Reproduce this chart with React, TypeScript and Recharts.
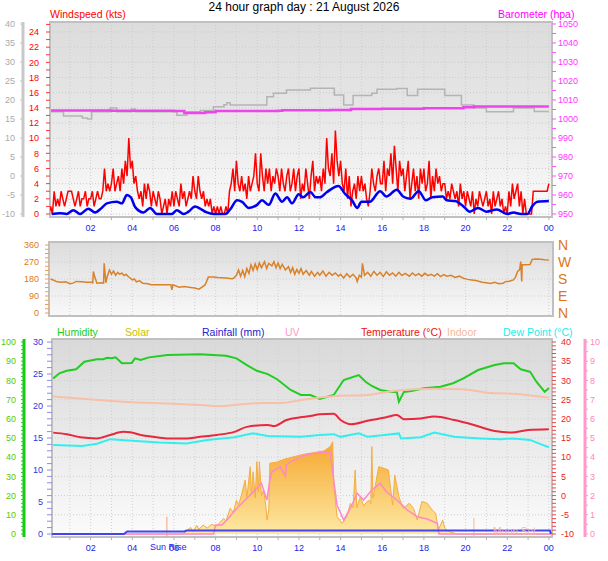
import React from 'react';
import { ComposedChart, Line, Area, XAxis, YAxis, CartesianGrid, ReferenceArea, ReferenceLine } from 'recharts';

const FONT = '"Liberation Sans", Arial, sans-serif';

// hours on the x axis (00:00 .. 24:00)
const gridHours = [1, 2, 3, 4, 5, 6, 7, 8, 9, 10, 11, 12, 13, 14, 15, 16, 17, 18, 19, 20, 21, 22, 23, 24];
const xLabelHours = [2, 4, 6, 8, 10, 12, 14, 16, 18, 20, 22, 24];
const xLabels = ['02', '04', '06', '08', '10', '12', '14', '16', '18', '20', '22', '00'];

// windspeed gusts, kts, every 5 minutes from 00:00
const gustKts = [
  0, 1, 0, 3, 1, 2, 1, 3, 2, 1, 2, 3,
  3, 3, 2, 1, 2, 3, 1, 2, 2, 3, 1, 2,
  2, 3, 1, 2, 3, 2, 2, 3, 6, 3, 4, 3,
  4, 6, 3, 4, 5, 3, 6, 4, 7, 5, 10, 6,
  7, 4, 5, 3, 2, 3, 1, 4, 2, 4, 3, 1,
  3, 2, 1, 3, 2, 0, 1, 2, 0, 2, 1, 3,
  1, 3, 2, 1, 4, 2, 3, 1, 2, 3, 2, 5,
  3, 2, 5, 3, 2, 3, 1, 2, 1, 2, 0, 1,
  0, 1, 0, 1, 0, 0, 1, 0, 3, 4, 6, 3,
  7, 4, 3, 5, 3, 4, 2, 5, 3, 4, 5, 8,
  4, 3, 8, 5, 3, 6, 4, 6, 3, 5, 4, 6,
  5, 3, 6, 4, 3, 5, 6, 3, 4, 6, 3, 5,
  6, 2, 4, 3, 6, 4, 2, 5, 7, 3, 5, 4,
  5, 3, 6, 4, 10, 6, 5, 8, 4, 11, 7, 5,
  7, 4, 3, 6, 2, 5, 1, 3, 4, 2, 5, 3,
  5, 3, 4, 2, 1, 3, 6, 4, 3, 5, 6, 4,
  4, 7, 3, 6, 5, 8, 4, 9, 6, 3, 7, 5,
  6, 3, 5, 7, 2, 4, 6, 3, 5, 2, 6, 4,
  6, 3, 4, 7, 2, 5, 3, 6, 4, 5, 3, 4,
  4, 2, 3, 2, 4, 3, 2, 3, 1, 4, 2, 3,
  1, 3, 2, 1, 3, 0, 2, 1, 3, 2, 1, 2,
  3, 1, 2, 0, 3, 1, 2, 3, 1, 2, 0, 1,
  0, 3, 1, 4, 2, 3, 4, 1, 3, 0, 2, 0,
  0, 0, 0, 3, 3, 3, 3, 3, 3, 3, 3, 3,
  4,
];

// average windspeed [hour, kts]
const avgKts: [number, number][] = [
  [0.13, 0], [0.53, 0.1], [0.85, 0], [1.17, 0.5], [1.49, 0], [1.89, 0.7], [2.21, 0.2], [2.53, 0.8],
  [2.78, 1.4], [3.26, 1.6], [3.5, 1.4], [3.74, 2.5], [3.93, 2.2], [4.14, 0.9], [4.54, 0.2], [4.86, 0.8],
  [5.18, 0], [5.5, 0], [5.9, 0], [6.14, 0.5], [6.46, 0], [6.7, 0.3], [7.02, 1], [7.26, 0.7],
  [7.58, 0.2], [7.9, 0], [8.3, 0], [8.46, 0], [8.7, 0.6], [9.03, 1.8], [9.27, 1.6], [9.59, 0.8],
  [9.99, 1.2], [10.23, 1.8], [10.55, 1.2], [10.87, 2.7], [11.19, 1.6], [11.43, 2.2], [11.67, 1.4], [11.99, 2.6],
  [12.2, 2.2], [12.55, 2.9], [12.8, 2.2], [13.0, 2.2], [13.35, 2.9], [13.9, 3.7], [14.2, 2.7], [14.55, 1.8],
  [14.8, 0.8], [15.0, 1.6], [15.4, 1.6], [15.9, 3.0], [16.2, 2.3], [16.7, 3.2], [17.0, 2.3], [17.35, 2.0],
  [17.75, 3.0], [18.1, 1.8], [18.4, 2.2], [18.9, 2.3], [19.1, 1.8], [19.5, 1.7], [19.9, 1.0], [20.2, 0.3],
  [20.6, 0.8], [21.0, 0.3], [21.5, 0.6], [22.0, 0], [22.3, 0.2], [22.65, 0], [22.97, 0], [23.2, 1.0],
  [23.45, 1.6], [24, 1.7],
];

// grey stepped trace [hour, hPa]
const greyHpa: [number, number][] = [
  [0.1, 1003.8], [0.7, 1001.6], [1.6, 1000.5], [1.85, 1000], [2.05, 1003.8], [2.93, 1005.8], [3.26, 1003.8],
  [3.95, 1005.2], [4.15, 1003.8], [6.14, 1002], [6.62, 1003.8], [7.26, 1004.5], [7.9, 1006.5], [8.4, 1007.5],
  [8.54, 1008.6], [8.7, 1007.4], [9.35, 1007.4], [10.46, 1011.7], [10.78, 1013.5], [11.4, 1015.2], [12.55, 1016.2],
  [13.7, 1012.6], [14.15, 1007.4], [14.6, 1012.4], [15.5, 1013.5], [15.75, 1015.6], [16.7, 1016], [17.2, 1012.4],
  [17.7, 1015.6], [19.0, 1012.4], [19.8, 1007.4], [20.4, 1005.8], [21.0, 1003.8], [22.3, 1005.8], [23.3, 1004],
  [24, 1004],
];

// barometer [hour, hPa]
const baroHpa: [number, number][] = [
  [0.1, 1004.5], [3, 1004.4], [6, 1004.2], [6.5, 1003.2], [7.5, 1003.6], [8, 1004.2], [11, 1004.3], [11.2, 1004.6],
  [13.5, 1004.8], [14.5, 1005.2], [16, 1005.4], [18, 1005.6], [19.9, 1006.2], [20.4, 1006.6], [24, 1006.6],
];

// wind direction [hour, degrees]
const windDir: [number, number][] = [
  [0.07, 180], [0.2, 175], [0.35, 167], [0.6, 163], [0.8, 165], [1.0, 155], [1.15, 158], [1.3, 167], [1.6, 165],
  [1.8, 163], [2.04, 163], [2.1, 160], [2.13, 220], [2.2, 190], [2.3, 158], [2.5, 160], [2.62, 158], [2.65, 263],
  [2.73, 160], [2.8, 195], [2.9, 228], [3.0, 205], [3.1, 222], [3.2, 200], [3.3, 215], [3.4, 205], [3.5, 212],
  [3.6, 198], [3.7, 205], [3.8, 193], [3.9, 185], [4.0, 175], [4.1, 180], [4.2, 165], [4.35, 170], [4.5, 158],
  [4.75, 155], [4.9, 150], [5.1, 149], [5.4, 150], [5.7, 149], [5.85, 149], [5.9, 123], [5.95, 149], [6.25, 137],
  [6.5, 140], [6.8, 135], [7.0, 132], [7.2, 126], [7.35, 137], [7.5, 150], [7.65, 190], [7.9, 190], [8.1, 188],
  [8.5, 185], [8.77, 181], [8.86, 184], [9.0, 200], [9.1, 228], [9.2, 195], [9.3, 225], [9.4, 193], [9.5, 235],
  [9.6, 210], [9.7, 255], [9.8, 225], [9.9, 260], [10.0, 230], [10.1, 265], [10.2, 240], [10.35, 272], [10.45, 235],
  [10.55, 262], [10.7, 250], [10.8, 272], [10.9, 240], [11.0, 265], [11.1, 235], [11.2, 258], [11.35, 228],
  [11.5, 245], [11.6, 215], [11.7, 240], [11.8, 205], [11.9, 230], [12.0, 210], [12.1, 235], [12.2, 205],
  [12.35, 225], [12.5, 200], [12.6, 220], [12.75, 195], [12.9, 215], [13.0, 200], [13.15, 222], [13.3, 195],
  [13.45, 215], [13.6, 200], [13.75, 212], [13.9, 195], [14.0, 205], [14.15, 185], [14.3, 208], [14.45, 190],
  [14.6, 205], [14.75, 185], [14.8, 167], [14.9, 200], [15.0, 190], [15.05, 263], [15.15, 200], [15.3, 215],
  [15.45, 195], [15.6, 220], [15.75, 200], [15.9, 215], [16.05, 193], [16.2, 218], [16.35, 200], [16.5, 212],
  [16.65, 195], [16.8, 215], [16.95, 198], [17.1, 210], [17.3, 195], [17.45, 212], [17.6, 198], [17.75, 208],
  [17.9, 195], [18.05, 210], [18.2, 198], [18.35, 205], [18.5, 195], [18.65, 208], [18.8, 193], [18.95, 203],
  [19.1, 195], [19.3, 200], [19.5, 188], [19.7, 195], [19.9, 184], [20.1, 178], [20.3, 175], [20.5, 172],
  [20.8, 163], [21.0, 160], [21.2, 156], [21.4, 162], [21.6, 155], [21.8, 158], [21.95, 167], [22.1, 168],
  [22.3, 175], [22.4, 190], [22.5, 220], [22.6, 230], [22.65, 272], [22.7, 167], [22.72, 255], [22.9, 255],
  [23.1, 256], [23.2, 284], [23.35, 286], [23.6, 284], [23.8, 282], [24.0, 281],
];
const dirTicks = [0, 90, 180, 270, 360];
const dirLabels = ['N', 'E', 'S', 'W', 'N'];

// bottom panel [hour, value]
const humidity: [number, number][] = [
  [0.2, 81], [0.5, 83.7], [0.85, 85], [1.3, 85.8], [1.7, 89.7], [2.3, 91], [2.6, 91], [2.8, 91.8], [3.0, 91.5],
  [3.2, 92], [3.5, 88.9], [3.97, 89], [4.13, 91.5], [4.4, 90.6], [4.8, 92], [5.7, 93.2], [7.25, 93.6], [8.5, 92.8],
  [9.0, 91.5], [9.5, 88], [9.98, 85], [10.5, 83.3], [10.95, 80.6], [11.6, 75], [12.1, 72.4], [12.55, 72.4],
  [13.0, 70.3], [13.67, 72.4], [14.15, 80.2], [14.87, 82.8], [15.2, 79.3], [15.5, 77.1], [15.9, 75], [16.4, 74.1],
  [16.7, 74], [16.8, 68.9], [17.04, 74], [17.4, 74.5], [18.0, 75.9], [18.8, 76.7], [19.4, 78.5], [19.9, 81],
  [20.6, 85.4], [21.4, 88], [21.85, 88.9], [22.3, 88.9], [22.65, 85.8], [23.1, 84.5], [23.4, 79.3], [23.8, 74],
  [24.0, 76],
];
const indoorC: [number, number][] = [
  [0.2, 25.8], [2.4, 24.9], [4.0, 24.3], [5.6, 24], [7.25, 23.6], [8.2, 23.3], [9.7, 24], [11.3, 24.2], [12.1, 24.9],
  [13.67, 25.9], [15.3, 26.2], [16.6, 27.3], [18.5, 27.8], [19.8, 27.7], [21.05, 26.8], [22.3, 26.5], [24, 25.5],
];
const temperatureC: [number, number][] = [
  [0.2, 16.4], [0.85, 16], [1.5, 15.2], [2.3, 14.9], [2.94, 15.8], [3.57, 16.6], [3.9, 16.5], [4.4, 15.8], [5.0, 15.3],
  [5.65, 14.9], [6.6, 14.9], [7.25, 15.3], [8.05, 15.8], [8.9, 16.6], [9.5, 17.9], [10.5, 18.4], [10.8, 18.1],
  [11.4, 19.7], [12.07, 20.4], [12.55, 20.7], [13.0, 21.2], [13.67, 21.3], [14.0, 19.7], [14.5, 18.6], [15.3, 19.5],
  [16.2, 20.4], [16.7, 21], [17.04, 19.9], [17.85, 20.1], [18.5, 20.6], [19.45, 19.7], [20.4, 18.4], [21.4, 16.8],
  [22.2, 16.4], [23.0, 17.1], [24, 17.3],
];
const dewPointC: [number, number][] = [
  [0.2, 13.2], [1.6, 12.9], [2.3, 13.5], [2.94, 14.7], [4.0, 14.3], [5.3, 13.8], [6.6, 13.6], [7.6, 14.5], [8.9, 15.2],
  [9.8, 16.2], [10.5, 15.5], [12.1, 15.3], [13.0, 15.8], [13.67, 16], [14.0, 15.3], [14.87, 16.2], [15.3, 15.3],
  [16.1, 15.8], [16.8, 16.2], [16.9, 14.9], [17.85, 15.2], [18.5, 16.4], [19.45, 15.3], [20.7, 14.9], [21.7, 14.7],
  [22.3, 14.9], [23.1, 14.5], [23.6, 13.4], [24, 12.6],
];
const solarWm2: [number, number][] = [
  [0.14, 0], [6.4, 0], [6.5, 10], [6.8, 55], [6.9, 20], [7.1, 70], [7.2, 40], [7.4, 75], [7.6, 50], [7.8, 80],
  [8.06, 67], [8.2, 95], [8.38, 130], [8.5, 110], [8.7, 214], [8.85, 180], [9.0, 283], [9.1, 240], [9.26, 339],
  [9.42, 450], [9.5, 300], [9.66, 561], [9.72, 330], [9.8, 519], [9.9, 300], [9.98, 603], [10.05, 350], [10.1, 603],
  [10.2, 320], [10.3, 367], [10.4, 250], [10.47, 117], [10.55, 200], [10.6, 589], [10.95, 600], [11.27, 622],
  [11.75, 644], [12.23, 664], [12.71, 678], [13.19, 692], [13.5, 728], [13.62, 769], [13.67, 422], [13.83, 144],
  [14.07, 89], [14.3, 144], [14.47, 256], [14.6, 220], [14.7, 533], [14.78, 220], [14.95, 311], [15.1, 236],
  [15.35, 283], [15.45, 250], [15.5, 728], [15.55, 300], [15.6, 339], [15.83, 561], [16.1, 547], [16.3, 533],
  [16.4, 380], [16.5, 242], [16.6, 492], [16.8, 311], [17.0, 214], [17.3, 256], [17.5, 214], [17.68, 117],
  [17.9, 270], [18.16, 256], [18.4, 200], [18.56, 172], [18.7, 33], [18.9, 117], [19.0, 50], [19.1, 33],
  [19.3, 15], [19.6, 0], [24.1, 0],
];
const uvIndex: [number, number][] = [
  [0.14, 0], [7.9, 0], [8.0, 0.47], [8.3, 0.47], [8.54, 0.73], [9.02, 1.34], [9.5, 1.86], [9.98, 2.38], [10.2, 2.64],
  [10.46, 1.77], [10.6, 2.8], [10.7, 3.24], [11.1, 3.5], [11.35, 3.0], [11.4, 3.6], [11.6, 3.77], [12.4, 4.15],
  [13.5, 4.29], [13.67, 2.8], [13.83, 1.5], [14.15, 0.73], [14.47, 1.34], [14.8, 2.12], [15.1, 1.77], [15.5, 2.29],
  [15.9, 2.64], [16.2, 2.2], [16.7, 1.77], [17.2, 1.25], [17.68, 0.9], [18.16, 0.78], [18.64, 0.56], [18.72, 0],
  [24.1, 0],
];
const rainMm: [number, number][] = [
  [0.14, 0], [3.6, 0], [3.75, 0.4], [6.5, 0.4], [6.6, 0.55], [24.05, 0.55], [24.1, 0],
];
const sunRiseHour = 5.66;
const moonSetHour = 20.4;

const range = (a: number, b: number, s: number) => {
  const out: number[] = [];
  for (let v = a; v <= b + 1e-9; v += s) out.push(Math.round(v * 100) / 100);
  return out;
};
const pts = (arr: [number, number][]) => arr.map(([t, v]) => ({ t, v }));
const gustData = gustKts.map((v, i) => ({ t: i / 12, v }));
const hourFmt = (h: number) => {
  const i = xLabelHours.indexOf(h);
  return i >= 0 ? xLabels[i] : '';
};
const everyFmt = (step: number) => (v: number) => (Math.abs(v / step - Math.round(v / step)) < 1e-6 ? String(v) : '');

const Txt: React.FC<{ x: number; y: number; color: string; size?: number; children: React.ReactNode }> = ({ x, y, color, size = 10.5, children }) => (
  <div style={{ position: 'absolute', left: x, top: y, color, fontSize: size, whiteSpace: 'nowrap', lineHeight: 1 }}>{children}</div>
);

const tick = (fill: string, fontSize = 9) => ({ fill, fontSize, fontFamily: FONT });
const frame = { fill: 'none', stroke: '#c0c0c0', strokeWidth: 2, ifOverflow: 'visible' as const };

// left axes are stacked by id: "a…" sits next to the plot, "b…" outside it
export default function App() {
  const xTop: [number, number] = [0.05, 24.15];
  const xMid: [number, number] = [0, 24.2];
  const xBot: [number, number] = [0.144, 24.15];
  return (
    <div style={{ position: 'absolute', left: 0, top: 0, width: 608, height: 561, background: '#fff', fontFamily: FONT, overflow: 'hidden' }}>
      <div style={{ position: 'absolute', left: 0, top: 0 }}>
        <ComposedChart width={608} height={240} margin={{ top: 22, right: 0, bottom: 3, left: 0 }}>
          <defs>
            <linearGradient id="bgTop" x1="0" y1="0" x2="0" y2="1">
              <stop offset="0%" stopColor="#dcdcdc" />
              <stop offset="45%" stopColor="#e6e6e6" />
              <stop offset="100%" stopColor="#fbfbfb" />
            </linearGradient>
          </defs>
          <CartesianGrid yAxisId="a_kts" fill="url(#bgTop)" stroke="#cdcdcd" strokeDasharray="1 2" horizontalValues={range(0, 24, 2)} verticalValues={gridHours} />
          <XAxis dataKey="t" type="number" domain={xTop} allowDataOverflow ticks={gridHours} interval={0} tickFormatter={hourFmt} height={20} tickSize={3} tickMargin={5} axisLine={false} tickLine={{ stroke: '#b0b0b0' }} tick={tick('#2222ee')} />
          <YAxis yAxisId="a_kts" orientation="left" width={27} type="number" domain={[-0.4, 25.32]} allowDataOverflow ticks={range(0, 25, 1)} interval={0} tickFormatter={(v: number) => (v % 2 === 0 && v <= 24 ? String(v) : '')} axisLine={false} tickSize={4} tickMargin={7} tickLine={{ stroke: '#ff3333' }} tick={tick('#ff0000')} />
          <YAxis yAxisId="b_grey" orientation="left" width={23} type="number" domain={[-10.79, 40.53]} allowDataOverflow ticks={range(-10, 40, 5)} interval={0} axisLine={{ stroke: '#c8c8c8', strokeWidth: 3 }} tickSize={3} tickMargin={5} tickLine={{ stroke: '#c8c8c8' }} tick={tick('#aaaaaa')} />
          <YAxis yAxisId="hpa" orientation="right" width={56} type="number" domain={[948.42, 1051.05]} allowDataOverflow ticks={range(950, 1050, 5)} interval={0} tickFormatter={everyFmt(10)} axisLine={false} tickSize={4} tickMargin={2} tickLine={{ stroke: '#ff55ff' }} tick={tick('#ff33ff')} />
          <ReferenceArea yAxisId="a_kts" x1={xTop[0]} x2={xTop[1]} y1={-0.4} y2={25.32} {...frame} />
          <Line yAxisId="hpa" data={pts(greyHpa)} dataKey="v" type="stepAfter" stroke="#b4b4b4" strokeWidth={1.5} dot={false} isAnimationActive={false} />
          <Line yAxisId="hpa" data={pts(baroHpa)} dataKey="v" type="stepAfter" stroke="#ee44ee" strokeWidth={2.5} dot={false} isAnimationActive={false} />
          <Line yAxisId="a_kts" data={gustData} dataKey="v" type="linear" stroke="#ff0000" strokeWidth={1.5} dot={false} isAnimationActive={false} />
          <Line yAxisId="a_kts" data={pts(avgKts)} dataKey="v" type="monotone" stroke="#0000ee" strokeWidth={2.5} dot={false} isAnimationActive={false} />
        </ComposedChart>
      </div>

      <div style={{ position: 'absolute', left: 0, top: 230 }}>
        <ComposedChart width={608} height={100} margin={{ top: 12, right: 0, bottom: 14, left: 0 }}>
          <defs>
            <linearGradient id="bgMid" x1="0" y1="0" x2="0" y2="1">
              <stop offset="0%" stopColor="#dcdcdc" />
              <stop offset="100%" stopColor="#f8f8f8" />
            </linearGradient>
          </defs>
          <CartesianGrid yAxisId="deg" fill="url(#bgMid)" stroke="#d0d0d0" strokeDasharray="1 2" horizontalValues={[90, 180, 270]} verticalValues={gridHours} />
          <XAxis dataKey="t" type="number" domain={xMid} allowDataOverflow hide />
          <YAxis yAxisId="deg" orientation="left" width={49} type="number" domain={[-15.9, 375.9]} allowDataOverflow ticks={range(0, 360, 22.5)} interval={0} tickFormatter={everyFmt(90)} axisLine={false} tickSize={4} tickMargin={6} tickLine={{ stroke: '#e8a060' }} tick={tick('#e07a20')} />
          <YAxis yAxisId="dir" orientation="right" width={55} type="number" domain={[-15.9, 375.9]} allowDataOverflow ticks={dirTicks} interval={0} tickFormatter={(v: number) => dirLabels[dirTicks.indexOf(v)]} axisLine={false} tickLine={false} tickSize={0} tickMargin={5} tick={tick('#e07810', 14)} />
          <ReferenceArea yAxisId="deg" x1={xMid[0]} x2={xMid[1]} y1={-15.9} y2={375.9} {...frame} />
          <Line yAxisId="deg" data={pts(windDir)} dataKey="v" type="linear" stroke="#d9822b" strokeWidth={1.5} dot={false} isAnimationActive={false} />
        </ComposedChart>
      </div>

      <div style={{ position: 'absolute', left: 0, top: 330 }}>
        <ComposedChart width={608} height={231} margin={{ top: 9, right: 0, bottom: 4, left: 0 }}>
          <defs>
            <linearGradient id="bgBot" x1="0" y1="0" x2="0" y2="1">
              <stop offset="0%" stopColor="#d9d9d9" />
              <stop offset="45%" stopColor="#e8e8e8" />
              <stop offset="100%" stopColor="#fbfbfb" />
            </linearGradient>
            <linearGradient id="solarFill" x1="0" y1="0" x2="0" y2="1">
              <stop offset="0%" stopColor="#f6a72e" />
              <stop offset="100%" stopColor="#fde9a4" />
            </linearGradient>
          </defs>
          <CartesianGrid yAxisId="temp" fill="url(#bgBot)" stroke="#d0d0d0" strokeDasharray="1 2" horizontalValues={range(-5, 35, 5)} verticalValues={gridHours} />
          <XAxis dataKey="t" type="number" domain={xBot} allowDataOverflow ticks={gridHours} interval={0} tickFormatter={hourFmt} height={20} tickSize={3} tickMargin={5} axisLine={false} tickLine={{ stroke: '#b0b0b0' }} tick={tick('#2222ee')} />
          <YAxis yAxisId="a_rain" orientation="left" width={28} type="number" domain={[-0.47, 30.47]} allowDataOverflow ticks={range(0, 30, 1)} interval={0} tickFormatter={everyFmt(5)} axisLine={false} tickSize={5} tickMargin={4} tickLine={{ stroke: '#8c8cf0' }} tick={tick('#3333dd')} />
          <YAxis yAxisId="b_hum" orientation="left" width={24} type="number" domain={[-1.56, 101.56]} allowDataOverflow ticks={range(0, 100, 2)} interval={0} tickFormatter={everyFmt(10)} axisLine={{ stroke: '#11cc11', strokeWidth: 3 }} tickSize={3} tickMargin={5} tickLine={{ stroke: '#22cc22' }} tick={tick('#55cc00')} />
          <YAxis yAxisId="temp" orientation="right" width={33} type="number" domain={[-10.78, 40.78]} allowDataOverflow ticks={range(-10, 40, 1)} interval={0} tickFormatter={everyFmt(5)} axisLine={false} tickSize={4} tickMargin={5} tickLine={{ stroke: '#ee4444' }} tick={tick('#ee2222')} />
          <YAxis yAxisId="uv" orientation="right" width={23} type="number" domain={[-0.156, 10.156]} allowDataOverflow ticks={range(0, 10, 0.5)} interval={0} tickFormatter={everyFmt(1)} axisLine={{ stroke: '#ff99cc', strokeWidth: 3 }} tickSize={3} tickMargin={2} tickLine={{ stroke: '#ff99cc' }} tick={tick('#ff88bb')} />
          <YAxis yAxisId="solar" hide type="number" domain={[-25, 1625]} allowDataOverflow />
          <ReferenceArea yAxisId="a_rain" x1={xBot[0]} x2={xBot[1]} y1={-0.47} y2={30.47} {...frame} />
          <Area yAxisId="solar" data={pts(solarWm2)} dataKey="v" type="linear" stroke="#f5ad40" strokeWidth={1} fill="url(#solarFill)" fillOpacity={1} isAnimationActive={false} />
          <ReferenceLine yAxisId="a_rain" segment={[{ x: sunRiseHour, y: -0.47 }, { x: sunRiseHour, y: 2.7 }]} stroke="#f4a070" />
          <ReferenceLine yAxisId="a_rain" segment={[{ x: moonSetHour, y: -0.47 }, { x: moonSetHour, y: 2.5 }]} stroke="#f6b898" />
          <Line yAxisId="b_hum" data={pts(humidity)} dataKey="v" type="linear" stroke="#22cc22" strokeWidth={2} dot={false} isAnimationActive={false} />
          <Line yAxisId="temp" data={pts(indoorC)} dataKey="v" type="monotone" stroke="#f8c0a8" strokeWidth={2} dot={false} isAnimationActive={false} />
          <Line yAxisId="temp" data={pts(temperatureC)} dataKey="v" type="monotone" stroke="#e8283c" strokeWidth={2} dot={false} isAnimationActive={false} />
          <Line yAxisId="temp" data={pts(dewPointC)} dataKey="v" type="linear" stroke="#33eeee" strokeWidth={2} dot={false} isAnimationActive={false} />
          <Line yAxisId="uv" data={pts(uvIndex)} dataKey="v" type="linear" stroke="#ff88c8" strokeWidth={1.5} dot={false} isAnimationActive={false} />
          <Line yAxisId="a_rain" data={pts(rainMm)} dataKey="v" type="linear" stroke="#4444ee" strokeWidth={2} dot={false} isAnimationActive={false} />
        </ComposedChart>
      </div>

      <div style={{ position: 'absolute', left: 0, top: 1, width: 608, textAlign: 'center', fontSize: 12, color: '#000', lineHeight: 1 }}>
        24 hour graph day : 21 August 2026
      </div>
      <Txt x={50} y={9} color="#ff0000">Windspeed (kts)</Txt>
      <Txt x={498} y={9} color="#ff00ff">Barometer (hpa)</Txt>
      <Txt x={57} y={327} color="#22cc22">Humidity</Txt>
      <Txt x={125} y={327} color="#c8c000">Solar</Txt>
      <Txt x={202} y={327} color="#2222cc">Rainfall (mm)</Txt>
      <Txt x={285} y={327} color="#ff99cc">UV</Txt>
      <Txt x={361} y={327} color="#ee1111">Temperature (°C)</Txt>
      <Txt x={447} y={327} color="#f8b89a">Indoor</Txt>
      <Txt x={503} y={327} color="#22eeee">Dew Point (°C)</Txt>
      <Txt x={150} y={543} color="#2222ee" size={9}>Sun Rise</Txt>
      <Txt x={493} y={527} color="#f6b8a0" size={10}>Moon Set</Txt>
    </div>
  );
}
